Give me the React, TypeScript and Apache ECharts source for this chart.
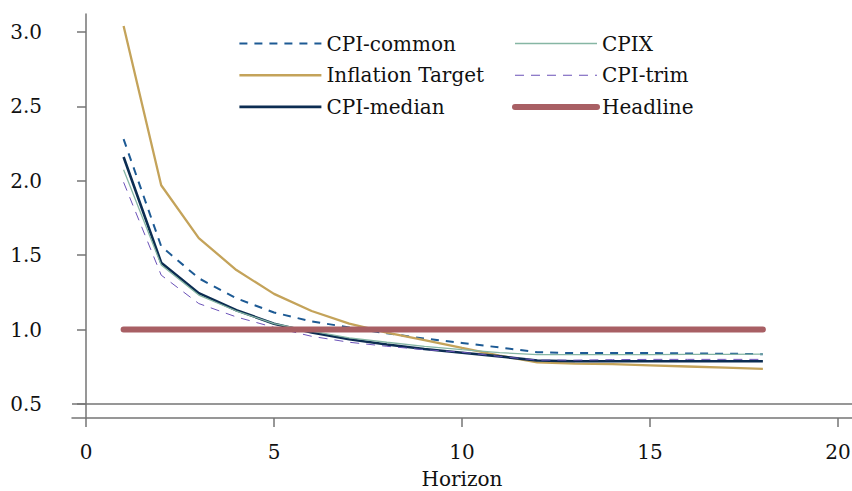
import React, { useEffect, useRef } from "react";
import * as echarts from "echarts";

const horizons = [1, 2, 3, 4, 5, 6, 7, 8, 9, 10, 11, 12, 13, 14, 15, 16, 17, 18];
const cpiCommon = [2.28, 1.56, 1.345, 1.21, 1.115, 1.055, 1.015, 0.975, 0.94, 0.91, 0.88, 0.848, 0.842, 0.842, 0.843, 0.84, 0.838, 0.835];
const inflationTarget = [3.04, 1.97, 1.615, 1.4, 1.24, 1.125, 1.04, 0.98, 0.93, 0.877, 0.825, 0.78, 0.772, 0.768, 0.76, 0.752, 0.744, 0.736];
const cpiMedian = [2.16, 1.45, 1.245, 1.13, 1.04, 0.98, 0.935, 0.9, 0.87, 0.845, 0.82, 0.792, 0.787, 0.787, 0.787, 0.787, 0.787, 0.787];
const cpix = [2.075, 1.435, 1.232, 1.125, 1.04, 0.99, 0.945, 0.915, 0.888, 0.865, 0.845, 0.832, 0.832, 0.832, 0.832, 0.833, 0.834, 0.835];
const cpiTrim = [1.99, 1.366, 1.175, 1.085, 1.015, 0.955, 0.915, 0.888, 0.865, 0.848, 0.82, 0.795, 0.795, 0.798, 0.8, 0.8, 0.8, 0.8];
const headline = [1, 1, 1, 1, 1, 1, 1, 1, 1, 1, 1, 1, 1, 1, 1, 1, 1, 1];

const xTicks = [0, 5, 10, 15, 20];
const yTicks = [0.5, 1.0, 1.5, 2.0, 2.5, 3.0];
const baselineValue = 0.5;

const FONT = "DejaVu Serif";
const AXIS_COLOR = "#757575";

const C_COMMON = "#1d5a94";
const C_TARGET = "#c4a35a";
const C_MEDIAN = "#0c2d52";
const C_CPIX = "#86b6a4";
const C_TRIM = "#6b52b8";
const C_HEAD = "#a85f64";

const pair = (ys: number[]) => horizons.map((h, i) => [h, ys[i]]);

export default function App() {
  const ref = useRef<HTMLDivElement>(null);
  useEffect(() => {
    if (!ref.current) return;
    document.body.style.margin = "0";
    const chart = echarts.init(ref.current, null, { renderer: "svg", width: 852, height: 491 });
    const legendText = { fontFamily: FONT, fontSize: 20, color: "#111", lineHeight: 23 };
    const legendBase = {
      orient: "vertical",
      top: 27,
      itemWidth: 82,
      itemHeight: 14,
      itemGap: 8.7,
      textStyle: legendText,
      selectedMode: false,
      itemStyle: { opacity: 0 },
    };
    chart.setOption({
      animation: false,
      backgroundColor: "#fff",
      textStyle: { fontFamily: FONT },
      grid: { left: 72, right: 0, top: 14, bottom: 73, containLabel: false, outerBoundsMode: "none" },
      legend: [
        {
          ...legendBase,
          left: 233,
          data: [
            { name: "CPI-common", lineStyle: { width: 2, type: [8, 7], color: C_COMMON } },
            { name: "Inflation Target", lineStyle: { width: 2.6, color: C_TARGET } },
            { name: "CPI-median", lineStyle: { width: 2.8, color: C_MEDIAN } },
          ],
        },
        {
          ...legendBase,
          left: 507,
          data: [
            { name: "CPIX", lineStyle: { width: 1.5, color: C_CPIX } },
            { name: "CPI-trim", lineStyle: { width: 1.1, type: [9, 7], color: C_TRIM } },
            { name: "Headline", lineStyle: { width: 6, color: C_HEAD } },
          ],
        },
      ],
      xAxis: {
        type: "value",
        min: -0.372,
        max: 20.37,
        name: "Horizon",
        nameLocation: "middle",
        nameGap: 51,
        nameTextStyle: { fontFamily: FONT, fontSize: 20, color: "#111" },
        axisLine: { show: true, lineStyle: { color: AXIS_COLOR, width: 1.5 } },
        axisTick: { show: true, length: 9, customValues: xTicks, lineStyle: { color: AXIS_COLOR, width: 1.5 } },
        axisLabel: {
          customValues: xTicks,
          margin: 24,
          fontFamily: FONT,
          fontSize: 20,
          color: "#111",
          formatter: (v: number) => String(v),
        },
        splitLine: { show: false },
      },
      yAxis: {
        type: "value",
        min: 0.406,
        max: 3.121,
        axisLine: { show: true, lineStyle: { color: AXIS_COLOR, width: 1.5 } },
        axisTick: { show: true, length: 9, customValues: yTicks, lineStyle: { color: AXIS_COLOR, width: 1.5 } },
        axisLabel: {
          customValues: yTicks,
          margin: 30,
          fontFamily: FONT,
          fontSize: 20,
          color: "#111",
          formatter: (v: number) => v.toFixed(1),
        },
        splitLine: { show: false },
      },
      series: [
        {
          name: "CPI-common",
          type: "line",
          data: pair(cpiCommon),
          symbol: "none",
          color: C_COMMON,
          lineStyle: { color: C_COMMON, width: 2, type: [8, 7] },
        },
        {
          name: "Inflation Target",
          type: "line",
          data: pair(inflationTarget),
          symbol: "none",
          color: C_TARGET,
          lineStyle: { color: C_TARGET, width: 2.3 },
        },
        {
          name: "CPI-median",
          type: "line",
          data: pair(cpiMedian),
          symbol: "none",
          color: C_MEDIAN,
          lineStyle: { color: C_MEDIAN, width: 2.6 },
        },
        {
          name: "CPIX",
          type: "line",
          data: pair(cpix),
          symbol: "none",
          color: C_CPIX,
          lineStyle: { color: C_CPIX, width: 1.3 },
        },
        {
          name: "CPI-trim",
          type: "line",
          data: pair(cpiTrim),
          symbol: "none",
          color: C_TRIM,
          lineStyle: { color: C_TRIM, width: 1, type: [9, 7] },
        },
        {
          name: "Headline",
          type: "line",
          data: pair(headline),
          symbol: "none",
          color: C_HEAD,
          lineStyle: { color: C_HEAD, width: 6, cap: "round" },
          markLine: {
            silent: true,
            symbol: "none",
            label: { show: false },
            lineStyle: { color: AXIS_COLOR, width: 1.5, type: "solid" },
            data: [{ yAxis: baselineValue }],
          },
        },
      ],
    });
    return () => chart.dispose();
  }, []);
  return <div ref={ref} style={{ width: 852, height: 491 }} />;
}
